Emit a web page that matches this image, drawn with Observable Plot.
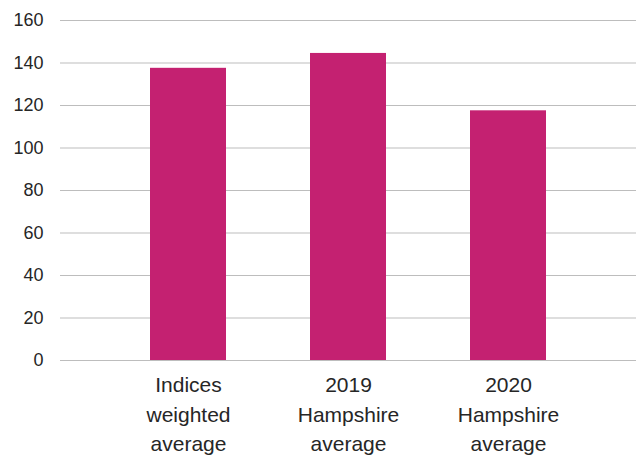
<!DOCTYPE html>
<html>
<head>
<meta charset="utf-8">
<script src="https://cdn.jsdelivr.net/npm/d3@7"></script>
<script src="https://cdn.jsdelivr.net/npm/@observablehq/plot@0.6"></script>
<style>
  html, body { margin: 0; padding: 0; background: #fff; }
  body { width: 636px; height: 459px; overflow: hidden; }
  svg { display: block; }
</style>
</head>
<body>
<div id="chart"></div>
<script>
const categories = ["Indices\nweighted\naverage", "2019\nHampshire\naverage", "2020\nHampshire\naverage"];
const values = [137.5, 144.5, 117.5];
const yTicks = [0, 20, 40, 60, 80, 100, 120, 140, 160];

const data = categories.map((c, i) => ({category: c, value: values[i]}));

const chart = Plot.plot({
  width: 636,
  height: 459,
  marginLeft: 60,
  marginRight: 0,
  marginTop: 20,
  marginBottom: 99,
  style: {fontFamily: "'Liberation Sans', Arial, Helvetica, sans-serif", color: "#262626", background: "#fff"},
  x: {domain: categories, range: [108, 588], paddingInner: 0.525, paddingOuter: 0.2625},
  y: {domain: [0, 160]},
  marks: [
    Plot.gridY(yTicks, {stroke: "#bdbdbd", strokeOpacity: 1, strokeWidth: 1}),
    Plot.barY(data, {x: "category", y: "value", fill: "#c42171"}),
    Plot.axisY(yTicks, {tickSize: 0, tickPadding: 17, fontSize: 18, label: null, fill: "#262626"}),
    Plot.axisX({tickSize: 0, tickPadding: 11, fontSize: 21, lineHeight: 1.4, label: null, fill: "#262626"})
  ]
});
document.getElementById("chart").appendChild(chart);
</script>
</body>
</html>
